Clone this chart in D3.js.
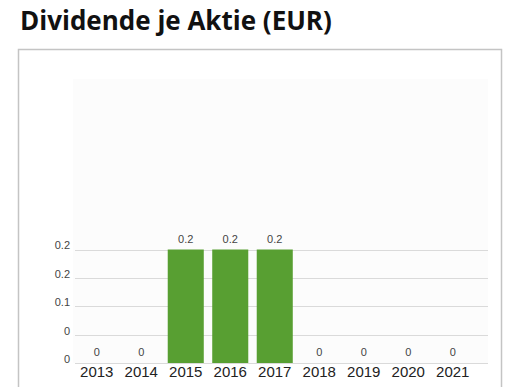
<!DOCTYPE html>
<html>
<head>
<meta charset="utf-8">
<script src="https://cdn.jsdelivr.net/npm/d3@7"></script>
<style>
  html, body { margin: 0; padding: 0; background: #fff; }
  svg { display: block; }
</style>
</head>
<body>
<svg id="chart" width="508" height="387"></svg>
<script>
// Dividend per share, by year
const years = ["2013", "2014", "2015", "2016", "2017", "2018", "2019", "2020", "2021"];
const dividends = [0, 0, 0.2, 0.2, 0.2, 0, 0, 0, 0];
const yTickValues = [0, 0.05, 0.1, 0.15, 0.2];
const yTickLabels = ["0", "0", "0.1", "0.2", "0.2"];

const svg = d3.select("#chart");

// Title
svg.append("text")
  .attr("x", 20).attr("y", 30)
  .attr("font-family", "'Open Sans', Lato, sans-serif")
  .attr("font-weight", "bold")
  .attr("font-size", 26)
  .attr("fill", "#111")
  .text("Dividende je Aktie (EUR)");

// Outer frame
svg.append("rect")
  .attr("x", 18.5).attr("y", 49.5)
  .attr("width", 483).attr("height", 360)
  .attr("fill", "#fff")
  .attr("stroke", "#c4c4c4")
  .attr("stroke-width", 1.5);

// Plot background
svg.append("rect")
  .attr("x", 73).attr("y", 79)
  .attr("width", 415).attr("height", 284)
  .attr("fill", "#fcfcfc");

const x = d3.scaleBand()
  .domain(years)
  .range([74.5, 475])
  .paddingInner(0.19)
  .paddingOuter(0.095);

const y = d3.scaleLinear()
  .domain([0, 0.2])
  .range([363, 249.5]);

// Gridlines
svg.append("g")
  .selectAll("line")
  .data(yTickValues)
  .join("line")
  .attr("x1", 75).attr("x2", 488)
  .attr("y1", d => Math.round(y(d)) + 0.5)
  .attr("y2", d => Math.round(y(d)) + 0.5)
  .attr("stroke", "#dadada")
  .attr("stroke-width", 1);

// Y axis labels
const yAxis = d3.axisLeft(y)
  .tickValues(yTickValues)
  .tickFormat((d, i) => yTickLabels[i])
  .tickSize(0)
  .tickPadding(0);

const gy = svg.append("g")
  .attr("transform", "translate(70,0)")
  .call(yAxis);
gy.select(".domain").remove();
gy.selectAll("text")
  .attr("font-family", "'Liberation Sans', Arial, sans-serif")
  .attr("font-size", 11)
  .attr("fill", "#444")
  .attr("dy", "-0.05em");

// Bars
svg.append("g")
  .selectAll("rect")
  .data(years.map((yr, i) => ({ yr, v: dividends[i] })))
  .join("rect")
  .attr("x", d => x(d.yr))
  .attr("width", x.bandwidth())
  .attr("y", d => y(d.v))
  .attr("height", d => y(0) - y(d.v))
  .attr("fill", "#589f32");

// Value labels
svg.append("g")
  .selectAll("text")
  .data(years.map((yr, i) => ({ yr, v: dividends[i] })))
  .join("text")
  .attr("x", d => x(d.yr) + x.bandwidth() / 2)
  .attr("y", d => y(d.v) - 7)
  .attr("text-anchor", "middle")
  .attr("font-family", "'Liberation Sans', Arial, sans-serif")
  .attr("font-size", 11)
  .attr("fill", "#444")
  .text(d => d3.format("~g")(d.v));

// X axis labels
const xAxis = d3.axisBottom(x).tickSize(0).tickPadding(0);
const gx = svg.append("g")
  .attr("transform", "translate(0,364)")
  .call(xAxis);
gx.select(".domain").remove();
gx.selectAll("text")
  .attr("font-family", "'Liberation Sans', Arial, sans-serif")
  .attr("font-size", 15)
  .attr("fill", "#222")
  .attr("dy", "0.85em");
</script>
</body>
</html>
